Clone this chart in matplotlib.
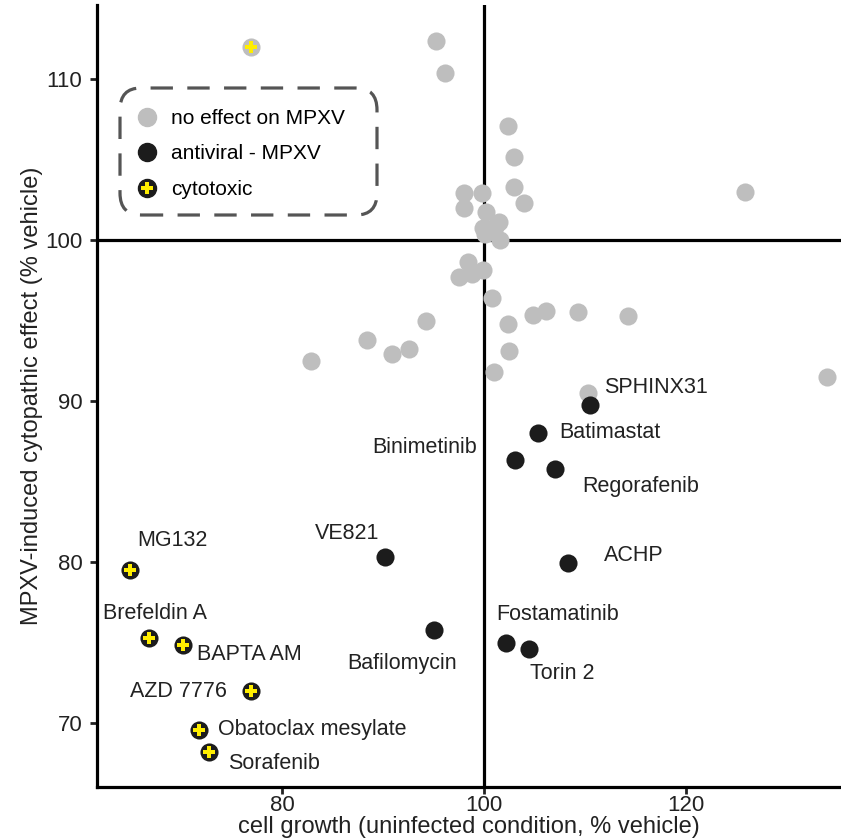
import matplotlib
matplotlib.use("Agg")
import matplotlib.pyplot as plt
from matplotlib.lines import Line2D
from matplotlib.legend_handler import HandlerTuple
from matplotlib.patches import FancyBboxPatch

plt.rcParams['font.family'] = ['Liberation Sans', 'DejaVu Sans']

# no effect on MPXV
grey_x = [95.24, 96.13, 102.35, 102.95, 102.98, 103.94, 98.05, 99.83, 98.05, 125.92,
          100.17, 101.52, 99.93, 100.6, 100.1, 101.6, 101.1, 98.38, 97.55, 98.78,
          99.93, 100.83, 82.81, 88.42, 90.9, 92.56, 94.25, 102.35, 104.8, 106.12,
          109.36, 114.26, 102.45, 100.96, 110.35, 134.0]
grey_y = [112.34, 110.4, 107.11, 105.17, 103.26, 102.29, 102.93, 102.91, 101.97, 102.97,
          101.72, 101.14, 100.77, 100.68, 100.37, 100.0, 100.83, 98.61, 97.68, 97.88,
          98.15, 96.37, 92.46, 93.79, 92.94, 93.23, 94.95, 94.77, 95.33, 95.6,
          95.51, 95.25, 93.08, 91.82, 90.47, 91.48]

# cytotoxic but no effect
grey_tox_x = [76.92]
grey_tox_y = [111.96]

# antiviral - MPXV
av_names = ['SPHINX31', 'Batimastat', 'Binimetinib', 'Regorafenib', 'ACHP',
            'VE821', 'Bafilomycin', 'Fostamatinib', 'Torin 2']
av_x = [110.52, 105.36, 103.1, 107.08, 108.3, 90.21, 95.07, 102.18, 104.46]
av_y = [89.76, 88.02, 86.31, 85.75, 79.92, 80.27, 75.78, 74.93, 74.56]

# cytotoxic
tox_names = ['MG132', 'Brefeldin A', 'BAPTA AM', 'AZD 7776', 'Obatoclax mesylate', 'Sorafenib']
tox_x = [64.88, 66.74, 70.17, 76.86, 71.76, 72.69]
tox_y = [79.46, 75.25, 74.85, 71.96, 69.53, 68.2]

# label placement (offset in pixels, alignment)
av_pos = [(14, 17, 'left'), (21, 0, 'left'), (-38, 13, 'right'), (27, -17, 'left'),
          (36, 8, 'left'), (-38, 24, 'center'), (-32, -34, 'center'), (-10, 29, 'left'),
          (1, -24, 'left')]
tox_pos = [(42, 30, 'center'), (6, 25, 'center'), (14, -10, 'left'), (-24, 0, 'right'),
           (19, 1, 'left'), (19, -12, 'left')]

GREY = '#bebebe'
BLACK = '#1c1c1c'
YELLOW = '#ffee00'
S = 170
SP = 75

fig = plt.figure(figsize=(8.41, 8.40), dpi=100)
ax = fig.add_axes([97/841, 53/840, 744/841, 782/840])

ax.axvline(100, color='black', lw=2.3, zorder=1)
ax.axhline(100, color='black', lw=2.3, zorder=1)

ax.scatter(grey_x, grey_y, s=S, color=GREY, lw=0, zorder=2)
ax.scatter(grey_tox_x, grey_tox_y, s=S, color=GREY, lw=0, zorder=2)
ax.scatter(grey_tox_x, grey_tox_y, s=SP, marker='P', color=YELLOW, lw=0, zorder=3)
ax.scatter(av_x, av_y, s=S, color=BLACK, lw=0, zorder=2)
ax.scatter(tox_x, tox_y, s=S, color=BLACK, lw=0, zorder=2)
ax.scatter(tox_x, tox_y, s=SP, marker='P', color=YELLOW, lw=0, zorder=3)

for names, xs, ys, pos in [(av_names, av_x, av_y, av_pos), (tox_names, tox_x, tox_y, tox_pos)]:
    for n, x, y, (dx, dy, ha) in zip(names, xs, ys, pos):
        ax.annotate(n, (x, y), xytext=(dx, dy), textcoords='offset pixels',
                    ha=ha, va='center', fontsize=15.5, color='#222222')

ax.set_xlim(61.6, 135.4)
ax.set_ylim(66.0, 114.6)
ax.set_xticks([80, 100, 120])
ax.set_yticks([70, 80, 90, 100, 110])
for s in ['top', 'right']:
    ax.spines[s].set_visible(False)
for s in ['left', 'bottom']:
    ax.spines[s].set_linewidth(2.3)
ax.tick_params(width=2.0, length=5, labelsize=16, colors='#222222')
ax.tick_params(axis='x', pad=0.5)
ax.tick_params(axis='y', pad=5.5)
ax.set_xlabel('cell growth (uninfected condition, % vehicle)', fontsize=17, labelpad=0, color='#222222')
ax.set_ylabel('MPXV-induced cytopathic effect (% vehicle)', fontsize=17, labelpad=1.5, color='#222222')

# legend box (dashed, rounded)
box = FancyBboxPatch((23/744, 572/782), 257/744, 127/782,
                     boxstyle='round,pad=0,rounding_size=0.028', transform=ax.transAxes,
                     facecolor='white', edgecolor='#555555', lw=2.3,
                     linestyle=(0, (7, 4.5)), zorder=4)
ax.add_patch(box)

h_grey = Line2D([], [], marker='o', ls='', color=GREY, markersize=13)
h_av = Line2D([], [], marker='o', ls='', color=BLACK, markersize=13)
h_tox = (Line2D([], [], marker='o', ls='', color=BLACK, markersize=13),
         Line2D([], [], marker='P', ls='', color=YELLOW, markersize=8.7, mew=0))
leg = ax.legend([h_grey, h_av, h_tox], ['no effect on MPXV', 'antiviral - MPXV', 'cytotoxic'],
                handler_map={tuple: HandlerTuple(ndivide=1, pad=0)},
                loc='upper left', bbox_to_anchor=(40/744, 1 - 104/782), fontsize=15,
                handlelength=1.0, handletextpad=0.65, labelspacing=0.79,
                borderpad=0, borderaxespad=0, frameon=False)
leg.set_zorder(5)

fig.savefig('out.png', dpi=100)
